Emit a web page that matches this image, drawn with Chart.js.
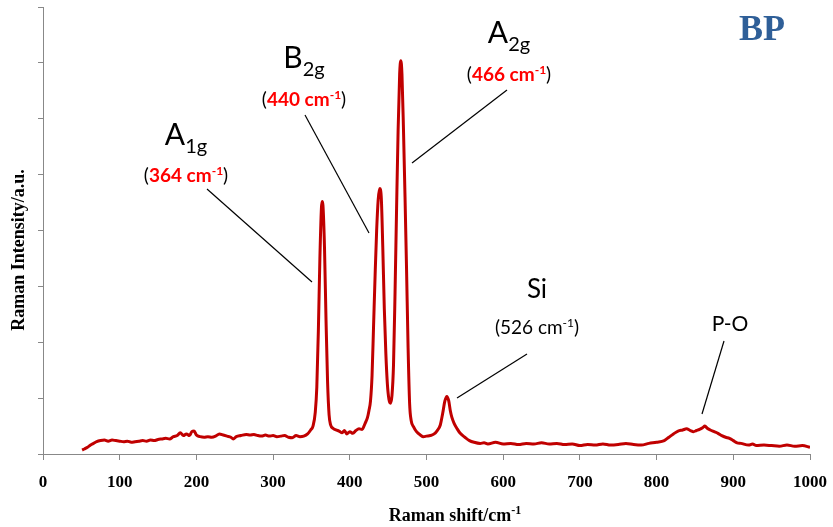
<!DOCTYPE html>
<html>
<head>
<meta charset="utf-8">
<script src="https://cdn.jsdelivr.net/npm/chart.js@4.4.1/dist/chart.umd.min.js"></script>
<style>
    html, body { margin: 0; padding: 0; background: #fff; }
    #wrap { width: 833px; height: 527px; }
</style>
</head>
<body>
<div id="wrap"><canvas id="ramanChart" width="833" height="527"></canvas></div>
<script>
// Raman spectrum (x in cm-1, y in arbitrary units)
const ramanShift = [
    51, 54, 58, 62, 66, 70, 75, 80, 85, 90, 95, 100, 105, 110, 115, 120, 125, 130, 135, 140,
    145, 150, 155, 160, 165, 170, 175, 179, 183, 187, 191, 194, 197, 200, 205, 210, 215, 220, 225, 230,
    235, 240, 245, 248, 252, 258, 265, 270, 275, 280, 285, 290, 295, 300, 305, 310, 315, 320, 325, 330,
    335, 340, 345, 349, 352, 355, 357, 359, 361, 363, 364, 365, 367, 369, 371, 373, 375, 378, 382, 386,
    390, 393, 396, 400, 404, 408, 412, 416, 420, 423, 425, 427, 429, 431, 433, 435, 437, 439, 441, 443,
    445, 447, 449, 451, 453, 455, 457, 459, 461, 463, 465, 466.5, 468, 470, 472, 474, 476, 478, 480, 483,
    487, 492, 496, 500, 505, 510, 514, 518, 521, 524, 526.5, 529, 531, 533, 536, 540, 544, 550, 556, 562,
    570, 575, 580, 590, 600, 610, 620, 630, 640, 650, 660, 670, 680, 690, 700, 710, 720, 730, 740, 750,
    760, 770, 780, 790, 800, 810, 816, 822, 828, 834, 839, 844, 848, 852, 856, 860, 863, 866, 870, 875,
    880, 885, 890, 895, 900, 905, 910, 920, 925, 930, 940, 950, 960, 970, 980, 990, 1000
];
const intensity = [
    0.07, 0.09, 0.12, 0.16, 0.19, 0.22, 0.24, 0.25, 0.23, 0.25, 0.24, 0.23, 0.22, 0.23, 0.21, 0.22, 0.23, 0.24, 0.23, 0.25,
    0.24, 0.26, 0.27, 0.28, 0.27, 0.31, 0.33, 0.38, 0.33, 0.36, 0.33, 0.40, 0.41, 0.34, 0.31, 0.30, 0.31, 0.30, 0.32, 0.36,
    0.34, 0.32, 0.30, 0.27, 0.31, 0.33, 0.35, 0.34, 0.35, 0.33, 0.32, 0.34, 0.32, 0.33, 0.31, 0.32, 0.33, 0.30, 0.29, 0.33,
    0.31, 0.32, 0.36, 0.43, 0.50, 0.75, 1.20, 2.20, 3.50, 4.40, 4.52, 4.45, 3.70, 2.40, 1.30, 0.70, 0.52, 0.46, 0.43, 0.41,
    0.38, 0.42, 0.36, 0.40, 0.37, 0.42, 0.45, 0.44, 0.55, 0.65, 0.78, 0.95, 1.40, 2.30, 3.20, 4.00, 4.55, 4.75, 4.60, 3.70,
    2.60, 1.80, 1.25, 0.98, 0.91, 1.05, 1.60, 2.90, 4.40, 5.80, 6.80, 7.04, 6.80, 5.80, 4.60, 3.30, 1.90, 0.90, 0.60, 0.49,
    0.40, 0.34, 0.31, 0.32, 0.33, 0.36, 0.42, 0.52, 0.72, 0.95, 1.03, 0.95, 0.78, 0.66, 0.55, 0.45, 0.37, 0.30, 0.24, 0.21,
    0.19, 0.20, 0.18, 0.21, 0.18, 0.19, 0.17, 0.19, 0.18, 0.20, 0.18, 0.19, 0.17, 0.18, 0.15, 0.17, 0.16, 0.18, 0.16, 0.17,
    0.19, 0.17, 0.16, 0.19, 0.21, 0.24, 0.30, 0.36, 0.41, 0.43, 0.45, 0.42, 0.40, 0.42, 0.44, 0.47, 0.50, 0.46, 0.43, 0.40,
    0.37, 0.33, 0.30, 0.28, 0.24, 0.20, 0.19, 0.16, 0.18, 0.15, 0.16, 0.15, 0.14, 0.16, 0.14, 0.15, 0.12
];
const xTicks = [0, 100, 200, 300, 400, 500, 600, 700, 800, 900, 1000];

const SANS = 'Lato, "Liberation Sans", sans-serif';
const SERIF = '"Liberation Serif", "Times New Roman", serif';

// draw a line of mixed fonts centred on cx
function drawRich(ctx, cx, baseline, parts) {
    let total = 0;
    parts.forEach(p => {
        ctx.font = p.font;
        p.w = ctx.measureText(p.text).width;
        total += p.w;
    });
    let x = cx - total / 2;
    parts.forEach(p => {
        ctx.font = p.font;
        ctx.fillStyle = p.color;
        ctx.fillText(p.text, x, baseline + (p.dy || 0));
        x += p.w;
    });
}

function peakLabel(ctx, cx, baseline, num, color, weight) {
    drawRich(ctx, cx, baseline, [
        { text: '(', font: '19px ' + SANS, color: '#000' },
        { text: num + ' cm', font: weight + ' 19px ' + SANS, color: color },
        { text: '-1', font: weight + ' 12px ' + SANS, color: color, dy: -7 },
        { text: ')', font: '19px ' + SANS, color: '#000' }
    ]);
}

const annotationPlugin = {
    id: 'annotations',
    afterDatasetsDraw(chart) {
        const ctx = chart.ctx;
        ctx.save();
        ctx.textAlign = 'left';
        ctx.textBaseline = 'alphabetic';

        // leader lines
        ctx.strokeStyle = '#000';
        ctx.lineWidth = 1.2;
        [
            [207, 189, 312, 282],
            [305, 115, 369, 233],
            [507, 90, 412, 163],
            [527, 354, 457, 398],
            [724, 341, 702, 414]
        ].forEach(([x1, y1, x2, y2]) => {
            ctx.beginPath();
            ctx.moveTo(x1, y1);
            ctx.lineTo(x2, y2);
            ctx.stroke();
        });

        // mode labels
        const big = '30px ' + SANS;
        const sub = '20px ' + SANS;
        drawRich(ctx, 186, 145, [
            { text: 'A', font: big, color: '#000' },
            { text: '1g', font: sub, color: '#000', dy: 8 }
        ]);
        drawRich(ctx, 304, 68, [
            { text: 'B', font: big, color: '#000' },
            { text: '2g', font: sub, color: '#000', dy: 8 }
        ]);
        drawRich(ctx, 509, 43, [
            { text: 'A', font: big, color: '#000' },
            { text: '2g', font: sub, color: '#000', dy: 8 }
        ]);
        peakLabel(ctx, 186, 182, '364', '#FF0000', 'bold');
        peakLabel(ctx, 304, 106, '440', '#FF0000', 'bold');
        peakLabel(ctx, 509, 81, '466', '#FF0000', 'bold');

        drawRich(ctx, 537, 298, [{ text: 'Si', font: '26px ' + SANS, color: '#000' }]);
        peakLabel(ctx, 537, 334, '526', '#000', 'normal');
        drawRich(ctx, 730, 331, [{ text: 'P-O', font: '21px ' + SANS, color: '#000' }]);

        drawRich(ctx, 762, 40, [{ text: 'BP', font: 'bold 36px ' + SERIF, color: '#2F5F98' }]);

        // axis titles
        drawRich(ctx, 455, 521, [
            { text: 'Raman shift/cm', font: 'bold 18px ' + SERIF, color: '#000' },
            { text: '-1', font: 'bold 12px ' + SERIF, color: '#000', dy: -7 }
        ]);
        ctx.translate(24, 250);
        ctx.rotate(-Math.PI / 2);
        drawRich(ctx, 0, 0, [{ text: 'Raman Intensity/a.u.', font: 'bold 18px ' + SERIF, color: '#000' }]);
        ctx.restore();
    }
};

const ctx = document.getElementById('ramanChart').getContext('2d');
new Chart(ctx, {
    type: 'line',
    data: {
        datasets: [{
            data: ramanShift.map((x, i) => ({ x: x, y: intensity[i] })),
            borderColor: '#C00000',
            borderWidth: 3,
            pointRadius: 0,
            cubicInterpolationMode: 'monotone',
            fill: false
        }]
    },
    options: {
        responsive: false,
        animation: false,
        layout: { padding: { top: 7, right: 23, left: 0, bottom: 0 } },
        plugins: { legend: { display: false }, tooltip: { enabled: false } },
        scales: {
            x: {
                type: 'linear',
                min: 0,
                max: 1000,
                afterBuildTicks: scale => { scale.ticks = xTicks.map(v => ({ value: v })); },
                ticks: {
                    font: { family: SERIF, size: 17, weight: 'bold' },
                    color: '#000',
                    padding: 12,
                    maxRotation: 0,
                    autoSkip: false,
                    callback: v => String(v)
                },
                grid: { drawOnChartArea: false, drawTicks: true, tickLength: 6, color: '#888' },
                border: { color: '#888', width: 1 },
                afterFit: scale => {
                    scale.height = 73;
                    scale.paddingLeft = 0;
                    scale.paddingRight = 0;
                }
            },
            y: {
                min: 0,
                max: 8,
                ticks: { display: false, stepSize: 1 },
                grid: { drawOnChartArea: false, drawTicks: true, tickLength: 5, color: '#888' },
                border: { color: '#888', width: 1 },
                afterFit: scale => {
                    scale.width = 43;
                    scale.paddingTop = 0;
                    scale.paddingBottom = 0;
                }
            }
        }
    },
    plugins: [annotationPlugin]
});
</script>
</body>
</html>
